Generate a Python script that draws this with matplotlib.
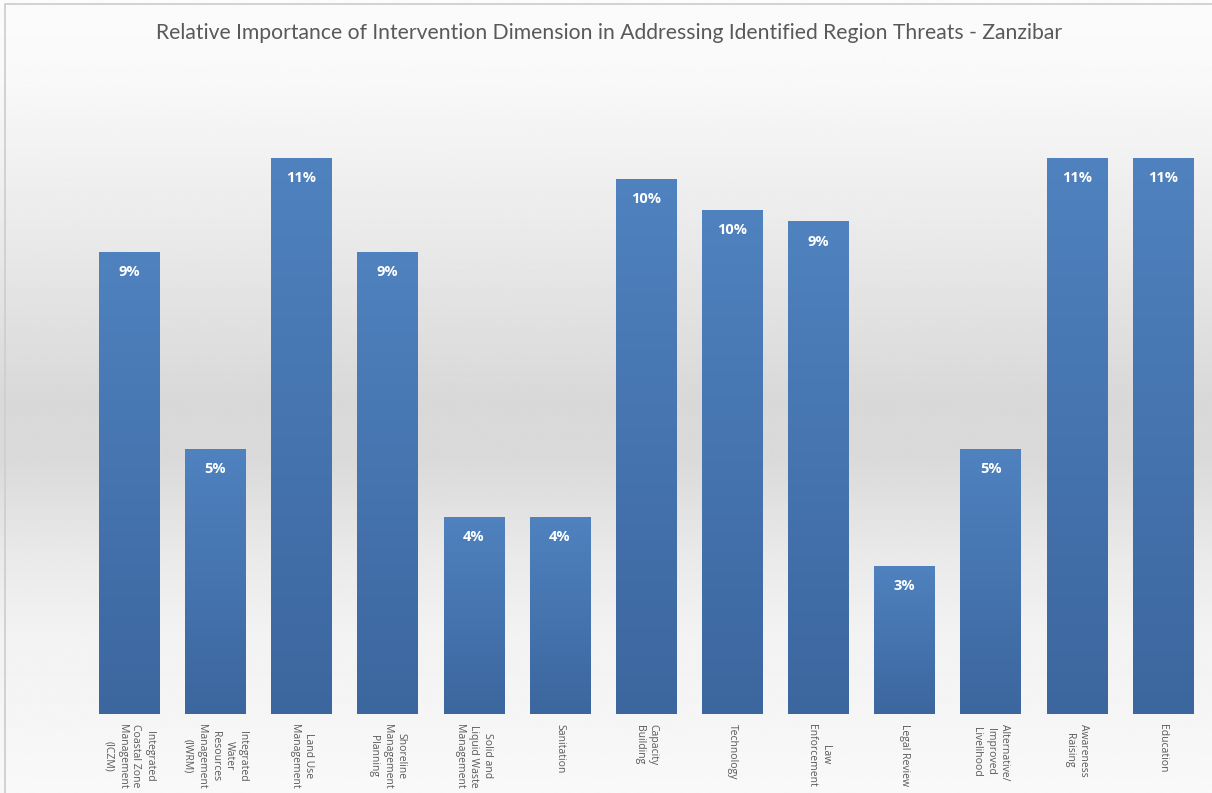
import matplotlib
matplotlib.use("Agg")
import matplotlib.pyplot as plt
import numpy as np
from matplotlib.colors import LinearSegmentedColormap
from matplotlib.patches import Rectangle

title = "Relative Importance of Intervention Dimension in Addressing Identified Region Threats - Zanzibar"
categories = [
    "Integrated\nCoastal Zone\nManagement\n(ICZM)",
    "Integrated\nWater\nResources\nManagement\n(IWRM)",
    "Land Use\nManagement",
    "Shoreline\nManagement\nPlanning",
    "Solid and\nLiquid Waste\nManagement",
    "Sanitation",
    "Capacity\nBuilding",
    "Technology",
    "Law\nEnforcement",
    "Legal Review",
    "Alternative/\nImproved\nLivelihood",
    "Awareness\nRaising",
    "Education",
]
values = [8.9, 5.1, 10.7, 8.9, 3.8, 3.8, 10.3, 9.7, 9.48, 2.85, 5.1, 10.7, 10.7]

W, H = 1212, 793
fig = plt.figure(figsize=(W / 100, H / 100), dpi=100)

# background gradient
bg = fig.add_axes([0, 0, 1, 1], zorder=0)
bg.set_axis_off()
ys = np.linspace(0, 1, 400)  # 0 = top
stops = [(0.0, 0.985), (0.10, 0.975), (0.30, 0.915), (0.50, 0.85), (0.58, 0.855), (0.70, 0.915), (0.80, 0.95), (1.0, 0.975)]
sy = [s[0] for s in stops]
sv = [s[1] for s in stops]
grad = np.interp(ys, sy, sv)
bg.imshow(np.repeat(grad[:, None], 2, axis=1), cmap="gray", vmin=0, vmax=1,
          aspect="auto", extent=[0, 1, 0, 1], origin="upper")
bg.set_xlim(0, 1)
bg.set_ylim(0, 1)
bg.add_patch(Rectangle((5 / W, -0.1), 1.2, 1.1 - 4 / H, fill=False,
                       edgecolor="#cfcfcf", lw=1.3, transform=bg.transAxes))

ax = fig.add_axes([86 / W, 79 / H, 1120 / W, 614 / H], zorder=1)
ax.patch.set_alpha(0)
x = np.arange(len(categories))
ymax = 10.7 * 614 / 556
bars = ax.bar(x, values, width=0.7, color="#4a78b3", zorder=2)

bar_cmap = LinearSegmentedColormap.from_list("bar", ["#3c669e", "#4f82bf"])
gy = np.linspace(0, 1, 256)[:, None]
for b, v in zip(bars, values):
    x0 = b.get_x()
    im = ax.imshow(np.repeat(gy, 2, axis=1), cmap=bar_cmap, aspect="auto",
                   extent=[x0, x0 + b.get_width(), 0, v], origin="lower", zorder=3)
    im.set_clip_path(b)
    ax.annotate(f"{v:.0f}%", (b.get_x() + b.get_width() / 2, v), xytext=(0, -14.5),
                textcoords="offset points", ha="center", va="center",
                color="white", fontsize=10.5, fontweight="bold", zorder=4,
                family="Open Sans")
ax.set_xlim(-0.5, len(categories) - 0.5)
ax.set_ylim(0, ymax)

ax.set_xticks(x)
ax.set_xticklabels(categories, rotation=270, ha="center", va="top",
                   fontsize=7.5, color="#595959", family="Open Sans",
                   multialignment="center", linespacing=1.35)
ax.tick_params(axis="x", length=0, pad=7)
ax.set_yticks([])
for s in ax.spines.values():
    s.set_visible(False)

fig.text(609 / W, 1 - 33 / H, title, ha="center", va="center",
         fontsize=15.2, color="#595959", family="Lato")

fig.savefig("out.png", dpi=100)
